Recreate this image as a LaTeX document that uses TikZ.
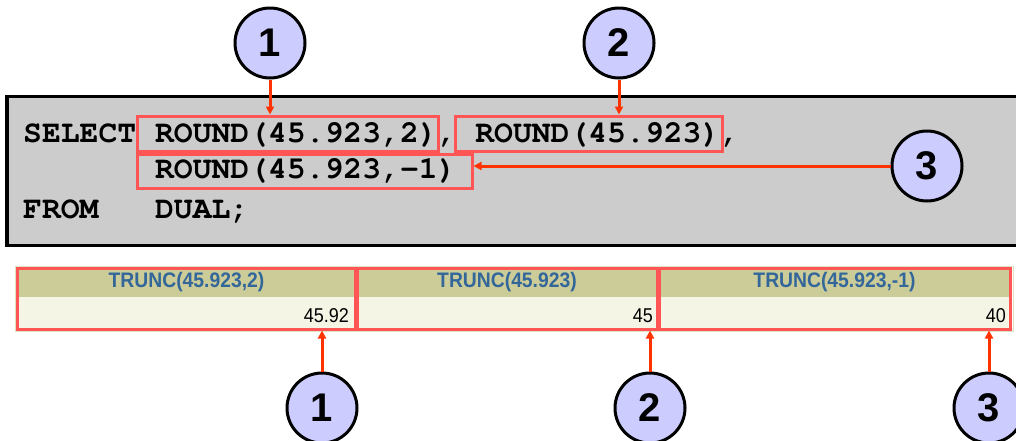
\documentclass[tikz,border=0pt]{standalone}
\usepackage{fontspec}
\setmainfont{Liberation Sans}
\newfontfamily\headfont[FakeStretch=0.92]{Liberation Sans}
\newfontfamily\valfont[FakeStretch=0.9]{Liberation Sans}
\newcommand{\codefont}{\fontencoding{T1}\fontfamily{pcr}\fontseries{b}\selectfont}
\usetikzlibrary{arrows.meta,positioning}

\definecolor{panelgray}{HTML}{CCCCCC}
\definecolor{numfill}{HTML}{CCCCFF}
\definecolor{boxred}{HTML}{FF5555}
\definecolor{arrred}{HTML}{FF3300}
\definecolor{headfill}{HTML}{CCCC99}
\definecolor{rowfill}{HTML}{F5F5E6}
\definecolor{headblue}{HTML}{336699}

\begin{document}
\begin{tikzpicture}[x=1pt, y=-1pt,
	num/.style={circle, draw, line width=3pt, fill=numfill, minimum size=70pt, inner sep=0pt, font=\fontsize{40pt}{40pt}\selectfont\bfseries},
	code/.style={anchor=base west, inner sep=0pt, font=\fontsize{31.4pt}{31.4pt}\codefont},
	hibox/.style={draw=boxred, line width=3pt, minimum height=35pt, inner sep=0pt},
	colbox/.style={draw=boxred, line width=3pt, minimum height=61pt, inner sep=0pt},
	arr/.style={draw=arrred, line width=3pt, -{Triangle[length=8pt,width=8pt]}},
	head/.style={text=headblue, font=\headfont\fontsize{21pt}{21pt}\selectfont\bfseries},
	val/.style={anchor=base east, inner sep=0pt, font=\valfont\fontsize{20pt}{20pt}\selectfont}]
	
	\useasboundingbox (0,0) rectangle (1016,440);
	\clip (0,0) rectangle (1016,440);
	
	% Query panel
	\draw[line width=3.5pt, fill=panelgray] (7,96.5) rectangle (1040,245.5);
	\node[code] (line1) at (23,142) {SELECT ROUND(45.923,2), ROUND(45.923),};
	\node[code] (line2) at (23,178) {\phantom{SELECT} ROUND(45.923,-1)};
	\node[code] (line3) at (23,218) {FROM\phantom{XX} DUAL;};
	
	% Highlighted calls
	\node[hibox, minimum width=301pt] (b1) at (287.5,133.5) {};
	\node[hibox, minimum width=267pt] (b2) at (588.5,133.5) {};
	\node[hibox, minimum width=335pt, minimum height=34pt] (b3) at (304.5,171) {};
	
	% Top callouts
	\node[num] (c1) at (270,43) {1};
	\node[num] (c2) at (619,43) {2};
	\node[num] (c3) at (927,166) {3};
	\draw[arr] (c1) -- (c1 |- b1.north);
	\draw[arr] (c2) -- (c2 |- b2.north);
	\draw[arr] (c3) -- (c3 -| b3.east);
	
	% Result table
	\draw[draw=headfill!60, line width=1pt] (15,266) rectangle (1013,331);
	\fill[headfill] (17,268) rectangle (1011,297);
	\fill[rowfill] (17,297) rectangle (1011,329);
	\node[head] (h1) at (186.5,282.5) {TRUNC(45.923,2)};
	\node[head] (h2) at (507,282.5) {TRUNC(45.923)};
	\node[head] (h3) at (834.5,282.5) {TRUNC(45.923,-1)};
	\node[val] (v1) at (349,322) {45.92};
	\node[val] (v2) at (653,322) {45};
	\node[val] (v3) at (1006,322) {40};
	\node[colbox, minimum width=338pt] (col1) at (186.5,298.5) {};
	\node[colbox, minimum width=300pt] (col2) at (507,298.5) {};
	\node[colbox, minimum width=351pt] (col3) at (834.5,298.5) {};
	
	% Bottom callouts
	\node[num] (d1) at (322,408) {1};
	\node[num] (d2) at (650,408) {2};
	\node[num] (d3) at (989,408) {3};
	\draw[arr] (d1) -- (d1 |- col1.south);
	\draw[arr] (d2) -- (d2 |- col2.south);
	\draw[arr] (d3) -- (d3 |- col3.south);
	
\end{tikzpicture}
\end{document}
